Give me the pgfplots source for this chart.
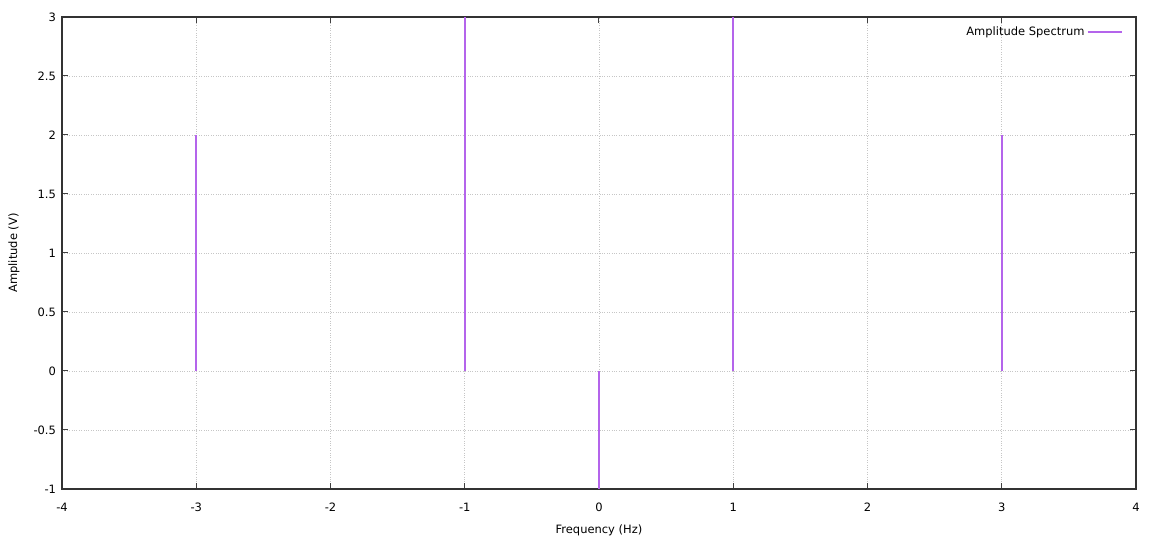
\documentclass[border=0pt]{standalone}
\usepackage{fontspec}
\setmainfont{DejaVu Sans}
\usepackage{pgfplots}
\pgfplotsset{compat=1.18}
\definecolor{imp}{RGB}{180,100,235}
\begin{document}
\fontsize{11.5}{13}\selectfont
\begin{tikzpicture}
\path[use as bounding box] (-62pt,-51pt) rectangle (1094pt,489pt);
\begin{axis}[
  at={(0,0)}, anchor=south west,
  scale only axis, width=1074pt, height=472pt,
  xmin=-4, xmax=4, ymin=-1, ymax=3,
  xtick={-4,-3,...,4}, ytick={-1,-0.5,...,3},
  tick align=inside, major tick length=6pt,
  tick style={black!75, line width=1pt},
  axis line style={black!80, line width=1.4pt},
  grid=major,
  major grid style={gray!45, dotted, line width=0.7pt},
  /pgf/number format/assume math mode=true,
  ticklabel style={font=\fontsize{11.5}{13}\selectfont},
  xticklabel style={yshift=-10pt},
  yticklabel style={xshift=-2pt},
  xlabel={Frequency (Hz)}, ylabel={Amplitude (V)},
  xlabel style={font=\fontsize{11.5}{13}\selectfont, at={(axis description cs:0.5,-0.0869)}, anchor=center},
  ylabel style={font=\fontsize{11.5}{13}\selectfont, at={(axis description cs:-0.0447,0.5)}, anchor=center},
  legend style={draw=none, fill=none, font=\fontsize{11.5}{13}\selectfont, at={(0.9905,0.988)}, anchor=north east},
  legend plot pos=right,
  legend cell align=right,
  legend image code/.code={\draw[#1, line width=2pt] (2pt,0) -- (36pt,0);},
]
\addplot[ycomb, color=imp, line width=2pt, mark=none] coordinates {
  (-3,2) (-1,3) (0,-1) (1,3) (3,2)
};
\addlegendentry{Amplitude Spectrum}
\end{axis}
\end{tikzpicture}
\end{document}
